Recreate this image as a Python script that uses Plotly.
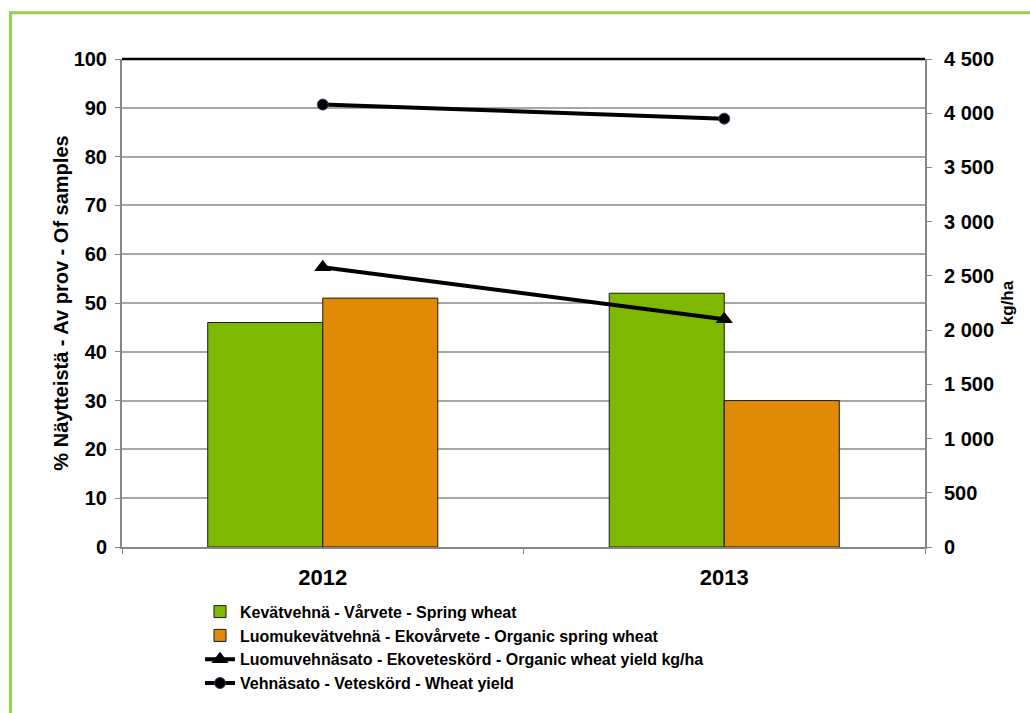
import plotly.graph_objects as go

# Data
years = ["2012", "2013"]
spring_wheat = [46, 52]            # % of samples
organic_spring_wheat = [51, 30]    # % of samples
organic_yield = [2580, 2100]       # kg/ha
wheat_yield = [4080, 3950]         # kg/ha

left_ticks = list(range(0, 101, 10))
right_ticks = list(range(0, 4501, 500))
right_ticktext = [f"{v:,}".replace(",", " ") for v in right_ticks]

FONT = "Liberation Sans, Arial, sans-serif"
GREEN_BAR = "#7FB800"
ORANGE_BAR = "#E08A06"
AXIS_GREY = "#868686"
GRID_GREY = "#A6A6A6"

W, H = 1030, 713
ML, MR, MT, MB = 122, 105, 59, 163
PW, PH = W - ML - MR, H - MT - MB


def px_x(x):
    return (x - ML) / PW


def px_y(y):
    return (H - MB - y) / PH


fig = go.Figure()

fig.add_trace(go.Bar(
    x=years, y=spring_wheat,
    name="Kevätvehnä - Vårvete - Spring wheat",
    marker=dict(color=GREEN_BAR, line=dict(color="#1a1a1a", width=1)),
))
fig.add_trace(go.Bar(
    x=years, y=organic_spring_wheat,
    name="Luomukevätvehnä - Ekovårvete - Organic spring wheat",
    marker=dict(color=ORANGE_BAR, line=dict(color="#1a1a1a", width=1)),
))
fig.add_trace(go.Scatter(
    x=years, y=organic_yield, yaxis="y2",
    name="Luomuvehnäsato - Ekoveteskörd - Organic wheat yield kg/ha",
    mode="lines+markers",
    line=dict(color="black", width=4),
    marker=dict(symbol="triangle-up", size=15, color="black"),
))
fig.add_trace(go.Scatter(
    x=years, y=wheat_yield, yaxis="y2",
    name="Vehnäsato - Veteskörd - Wheat yield",
    mode="lines+markers",
    line=dict(color="black", width=4),
    marker=dict(symbol="circle", size=11, color="black",
                line=dict(color="#4B3A6B", width=1)),
))

fig.update_layout(
    width=W, height=H,
    margin=dict(l=ML, r=MR, t=MT, b=MB),
    paper_bgcolor="white", plot_bgcolor="white",
    font=dict(family=FONT, color="black", size=16, weight="bold"),
    barmode="group", bargap=0.427, bargroupgap=0,
    showlegend=True,
    legend=dict(
        x=px_x(200), y=px_y(598), xanchor="left", yanchor="top",
        font=dict(family=FONT, size=16, color="black", weight="bold"),
        traceorder="normal", tracegroupgap=0,
        itemwidth=30, bgcolor="rgba(0,0,0,0)",
    ),
    xaxis=dict(
        type="category",
        showline=True, linecolor=AXIS_GREY, linewidth=2,
        ticks="outside", tickson="boundaries", ticklen=5,
        tickcolor=AXIS_GREY, tickwidth=1,
        tickfont=dict(family=FONT, size=22, weight="bold"),
        ticklabelstandoff=10,
        showgrid=False, zeroline=False,
    ),
    yaxis=dict(
        range=[0, 100], tickvals=left_ticks,
        showline=True, linecolor=AXIS_GREY, linewidth=2,
        ticks="outside", ticklen=5, tickcolor=AXIS_GREY, tickwidth=1,
        tickfont=dict(family=FONT, size=20, weight="bold"),
        ticklabelstandoff=4,
        showgrid=True, gridcolor=GRID_GREY, gridwidth=1.5,
        zeroline=False,
        title=dict(text="% Näytteistä - Av prov - Of samples",
                   font=dict(family=FONT, size=20, weight="bold"),
                   standoff=0),
    ),
    yaxis2=dict(
        overlaying="y", side="right",
        range=[0, 4500], tickvals=right_ticks, ticktext=right_ticktext,
        showline=True, linecolor=AXIS_GREY, linewidth=2,
        ticks="outside", ticklen=5, tickcolor=AXIS_GREY, tickwidth=1,
        tickfont=dict(family=FONT, size=20, weight="bold"),
        ticklabelstandoff=8,
        showgrid=False, zeroline=False,
        title=dict(text="kg/ha",
                   font=dict(family=FONT, size=17, weight="bold"),
                   standoff=8),
    ),
    shapes=[
        # black top border of the plot area
        dict(type="line", xref="paper", yref="paper",
             x0=0, x1=1, y0=1, y1=1,
             line=dict(color="black", width=2.5)),
        # green outer frame of the chart
        dict(type="rect", xref="paper", yref="paper",
             x0=px_x(10.5), x1=px_x(1045), y0=px_y(730), y1=px_y(12.5),
             line=dict(color="#92D050", width=3), layer="below"),
    ],
)

fig.write_html("out.html")
